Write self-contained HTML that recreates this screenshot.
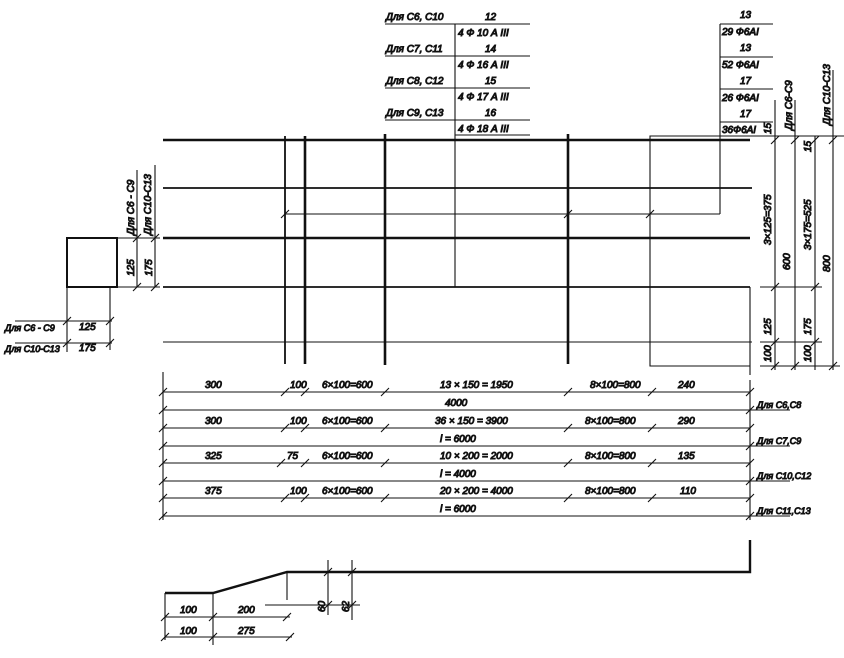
<!DOCTYPE html>
<html><head><meta charset="utf-8"><style>
html,body{margin:0;padding:0;background:#fff}
svg{display:block}
text{font-family:"Liberation Sans","DejaVu Sans",sans-serif;font-style:italic;font-size:10px;fill:#111}
</style></head><body>
<svg width="844" height="658" viewBox="0 0 844 658" xmlns="http://www.w3.org/2000/svg">
<g stroke="#111" fill="none">
<!-- main thick bars -->
<g stroke-width="2.6">
<line x1="163" y1="140" x2="750" y2="140"/>
<line x1="163" y1="238" x2="750" y2="238"/>
<line x1="305" y1="136" x2="305" y2="364"/>
<line x1="385" y1="134" x2="385" y2="365"/>
<line x1="568" y1="134" x2="568" y2="364"/>
</g>
<g stroke-width="1.8">
<line x1="163" y1="188" x2="752" y2="188"/>
<line x1="163" y1="287" x2="750" y2="287"/>
<line x1="285" y1="136" x2="285" y2="364"/>
</g>
<g stroke-width="1.1">
<line x1="163" y1="342" x2="752" y2="342"/>
<line x1="285" y1="214" x2="720" y2="214"/>
<line x1="720" y1="24" x2="720" y2="214"/>
<line x1="455" y1="24" x2="455" y2="287"/>
<polyline points="844,136 650,136 650,366 750,366"/>
<line x1="750" y1="287" x2="750" y2="375"/>
<!-- right dim lines -->
<line x1="775" y1="100" x2="775" y2="370"/>
<line x1="795" y1="100" x2="795" y2="370"/>
<line x1="815" y1="136" x2="815" y2="370"/>
<line x1="833" y1="70" x2="833" y2="370"/>
<line x1="760" y1="287" x2="822" y2="287"/>
<line x1="760" y1="342" x2="822" y2="342"/>
<line x1="760" y1="366" x2="840" y2="366"/>
<!-- ticks right -->
<path d="M771 144 l8 -8 M771 291 l8 -8 M771 346 l8 -8 M771 370 l8 -8 M791 144 l8 -8 M791 370 l8 -8 M811 144 l8 -8 M811 291 l8 -8 M811 346 l8 -8 M829 144 l8 -8 M829 370 l8 -8"/>
<!-- tables -->
<line x1="385" y1="24" x2="530" y2="24"/>
<line x1="385" y1="56" x2="530" y2="56"/>
<line x1="385" y1="88" x2="530" y2="88"/>
<line x1="385" y1="120" x2="530" y2="120"/>
<line x1="455" y1="135" x2="530" y2="135"/>
<line x1="720" y1="24" x2="773" y2="24"/>
<line x1="720" y1="57" x2="773" y2="57"/>
<line x1="720" y1="89" x2="773" y2="89"/>
<line x1="720" y1="122" x2="773" y2="122"/>
<!-- small ticks on grid -->
<path d="M281 218 l8 -8 M564 218 l8 -8 M646 218 l8 -8"/>
<!-- left square -->
<rect x="67" y="238" width="50" height="49" stroke-width="2"/>
<line x1="117" y1="238" x2="160" y2="238"/>
<line x1="117" y1="287" x2="160" y2="287"/>
<line x1="137" y1="170" x2="137" y2="287"/>
<line x1="155" y1="165" x2="155" y2="287"/>
<path d="M133 242 l8 -8 M133 291 l8 -8 M151 242 l8 -8 M151 291 l8 -8"/>
<line x1="67" y1="287" x2="67" y2="352"/>
<line x1="110" y1="287" x2="110" y2="350"/>
<line x1="15" y1="321" x2="112" y2="321"/>
<line x1="15" y1="343" x2="112" y2="343"/>
<path d="M63 325 l8 -8 M106 325 l8 -8 M63 347 l8 -8 M106 347 l8 -8"/>
<!-- bottom dims -->
<line x1="163" y1="372" x2="163" y2="520"/>
<line x1="750" y1="380" x2="750" y2="520"/>
<line x1="163" y1="392" x2="750" y2="392"/>
<line x1="163" y1="410" x2="790" y2="410"/>
<line x1="163" y1="428" x2="750" y2="428"/>
<line x1="163" y1="446" x2="790" y2="446"/>
<line x1="163" y1="463" x2="750" y2="463"/>
<line x1="163" y1="481" x2="790" y2="481"/>
<line x1="163" y1="498" x2="750" y2="498"/>
<line x1="163" y1="516" x2="790" y2="516"/>
<path d="M159 396 l8 -8 M281 396 l8 -8 M301 396 l8 -8 M381 396 l8 -8 M564 396 l8 -8 M648 396 l8 -8 M746 396 l8 -8
M159 414 l8 -8 M746 414 l8 -8
M159 432 l8 -8 M281 432 l8 -8 M301 432 l8 -8 M381 432 l8 -8 M564 432 l8 -8 M648 432 l8 -8 M746 432 l8 -8
M159 450 l8 -8 M746 450 l8 -8
M159 467 l8 -8 M277 467 l8 -8 M301 467 l8 -8 M381 467 l8 -8 M564 467 l8 -8 M648 467 l8 -8 M746 467 l8 -8
M159 485 l8 -8 M746 485 l8 -8
M159 502 l8 -8 M281 502 l8 -8 M301 502 l8 -8 M381 502 l8 -8 M564 502 l8 -8 M648 502 l8 -8 M746 502 l8 -8
M159 520 l8 -8 M746 520 l8 -8"/>
<!-- bent bar -->
<polyline points="165,593 213,593 287,572 750,572 750,540" stroke-width="2.4"/>
<line x1="287" y1="572" x2="287" y2="600"/>
<line x1="265" y1="605" x2="360" y2="605"/>
<line x1="328" y1="560" x2="328" y2="615"/>
<line x1="352" y1="560" x2="352" y2="620"/>
<path d="M324 576 l8 -8 M348 576 l8 -8 M324 609 l8 -8 M348 609 l8 -8"/>
<line x1="165" y1="593" x2="165" y2="640"/>
<line x1="213" y1="593" x2="213" y2="645"/>
<line x1="165" y1="617" x2="290" y2="617"/>
<line x1="165" y1="637" x2="292" y2="637"/>
<path d="M161 621 l8 -8 M209 621 l8 -8 M283 621 l8 -8 M161 641 l8 -8 M209 641 l8 -8 M286 641 l8 -8"/>
</g>
<!-- table text -->
<text x="386" y="20">Для С6, С10</text><text x="485" y="20">12</text>
<text x="458" y="36">4 Ф 10 А III</text>
<text x="386" y="52">Для С7, С11</text><text x="485" y="52">14</text>
<text x="458" y="68">4 Ф 16 А III</text>
<text x="386" y="84">Для С8, С12</text><text x="485" y="84">15</text>
<text x="458" y="100">4 Ф 17 А III</text>
<text x="386" y="116">Для С9, С13</text><text x="485" y="116">16</text>
<text x="458" y="132">4 Ф 18 А III</text>
<text x="740" y="18">13</text><text x="722" y="35">29 Ф6АI</text>
<text x="740" y="51">13</text><text x="722" y="68">52 Ф6АI</text>
<text x="740" y="84">17</text><text x="722" y="101">26 Ф6АI</text>
<text x="740" y="117">17</text><text x="722" y="133">36Ф6АI</text>
<!-- rotated right dims -->
<text transform="translate(771,245) rotate(-90)">3×125=375</text>
<text transform="translate(790,270) rotate(-90)">600</text>
<text transform="translate(771,335) rotate(-90)">125</text>
<text transform="translate(771,362) rotate(-90)">100</text>
<text transform="translate(771,134) rotate(-90)">15</text>
<text transform="translate(792,130) rotate(-90)">Для С6-С9</text>
<text transform="translate(811,152) rotate(-90)">15</text>
<text transform="translate(811,250) rotate(-90)">3×175=525</text>
<text transform="translate(811,335) rotate(-90)">175</text>
<text transform="translate(811,362) rotate(-90)">100</text>
<text transform="translate(830,272) rotate(-90)">800</text>
<text transform="translate(830,125) rotate(-90)">Для С10-С13</text>
<!-- left -->
<text transform="translate(134,235) rotate(-90)">Для С6 - С9</text>
<text transform="translate(151,235) rotate(-90)">Для С10-С13</text>
<text transform="translate(134,276) rotate(-90)">125</text>
<text transform="translate(152,276) rotate(-90)">175</text>
<text x="5" y="331" style="font-size:9px">Для С6 - С9</text><text x="79" y="330">125</text>
<text x="5" y="352" style="font-size:9px">Для С10-С13</text><text x="79" y="351">175</text>
<!-- bottom dims text -->
<text x="205" y="388">300</text><text x="290" y="388">100</text><text x="322" y="388">6×100=600</text>
<text x="440" y="388">13 × 150 = 1950</text><text x="590" y="388">8×100=800</text><text x="678" y="388">240</text>
<text x="445" y="406">4000</text><text x="757" y="408" style="font-size:9px">Для С6,С8</text>
<text x="205" y="424">300</text><text x="290" y="424">100</text><text x="322" y="424">6×100=600</text>
<text x="435" y="424">36 × 150 = 3900</text><text x="585" y="424">8×100=800</text><text x="678" y="424">290</text>
<text x="440" y="442">l = 6000</text><text x="757" y="444" style="font-size:9px">Для С7,С9</text>
<text x="205" y="459">325</text><text x="287" y="459">75</text><text x="322" y="459">6×100=600</text>
<text x="440" y="459">10 × 200 = 2000</text><text x="585" y="459">8×100=800</text><text x="678" y="459">135</text>
<text x="440" y="477">l = 4000</text><text x="757" y="479" style="font-size:9px">Для С10,С12</text>
<text x="205" y="494">375</text><text x="290" y="494">100</text><text x="322" y="494">6×100=600</text>
<text x="440" y="494">20 × 200 = 4000</text><text x="585" y="494">8×100=800</text><text x="680" y="494">110</text>
<text x="440" y="512">l = 6000</text><text x="757" y="514" style="font-size:9px">Для С11,С13</text>
<!-- bent bar text -->
<text x="180" y="613">100</text><text x="238" y="613">200</text>
<text x="180" y="634">100</text><text x="238" y="634">275</text>
<text transform="translate(325,612) rotate(-90)">60</text>
<text transform="translate(349,612) rotate(-90)">62</text>
</svg>
</body></html>
